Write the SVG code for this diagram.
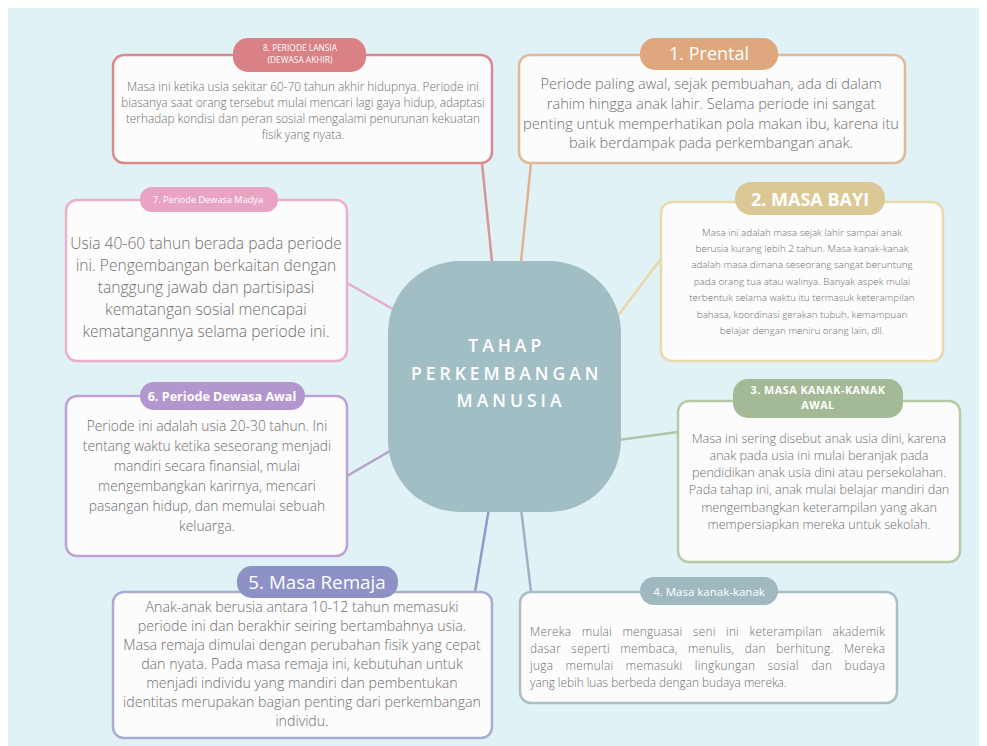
<svg xmlns="http://www.w3.org/2000/svg" width="987" height="746" viewBox="0 0 987 746">
<style>
.box{fill:#fdfcfc;stroke-width:2.5}
.body{font-family:"Open Sans","Liberation Sans",sans-serif;font-weight:300;fill:#6e6e6e;text-anchor:middle}
.lab{font-family:"Open Sans","Liberation Sans",sans-serif;fill:#ffffff;text-anchor:middle}
.conn line{stroke-width:2.5;stroke-linecap:round}
</style>
<rect x="0" y="0" width="987" height="746" fill="#ffffff"/>
<rect x="8" y="8" width="971" height="738" fill="#e1f2f7"/>

<g class="conn">
<line x1="482" y1="163" x2="492" y2="262" stroke="#d7959e"/>
<line x1="531" y1="163" x2="521" y2="262" stroke="#e2b393"/>
<line x1="347" y1="283" x2="398" y2="312" stroke="#e6aacb"/>
<line x1="617" y1="317" x2="660" y2="260" stroke="#ead7a8"/>
<line x1="347" y1="476" x2="395" y2="448" stroke="#b89fd0"/>
<line x1="618" y1="440" x2="678" y2="432" stroke="#b2c4a4"/>
<line x1="489" y1="508" x2="475" y2="592" stroke="#9498c8"/>
<line x1="521" y1="508" x2="531" y2="592" stroke="#9fb2c4"/>
</g>

<g id="center">
<rect x="388" y="261" width="233" height="251" rx="72" fill="#a1bec4"/>
<text font-family="'Open Sans','Liberation Sans',sans-serif" font-weight="600" font-size="17.5" fill="#ffffff" text-anchor="middle" letter-spacing="4">
<tspan x="511" y="352">TAHAP</tspan>
<tspan x="511" y="380">PERKEMBANGAN</tspan>
<tspan x="511" y="407">MANUSIA</tspan>
</text>
</g>

<g id="n8">
<rect class="box" x="113" y="55" width="379" height="108" rx="11" stroke="#d88a8e"/>
<rect x="233" y="38" width="133" height="34" rx="15" fill="#d98185"/>
<text class="lab" font-size="8.4"><tspan x="300" y="51">8. PERIODE LANSIA</tspan><tspan x="300" y="63">(DEWASA AKHIR)</tspan></text>
<text class="body" font-size="11.8"><tspan x="303" y="91">Masa ini ketika usia sekitar 60-70 tahun akhir hidupnya. Periode ini</tspan><tspan x="303" y="107">biasanya saat orang tersebut mulai mencari lagi gaya hidup, adaptasi</tspan><tspan x="303" y="123">terhadap kondisi dan peran sosial mengalami penurunan kekuatan</tspan><tspan x="303" y="139">fisik yang nyata.</tspan></text>
</g>

<g id="n1">
<rect class="box" x="519" y="55" width="386" height="108" rx="11" stroke="#e3b898"/>
<rect x="640" y="38" width="138" height="32" rx="15" fill="#dea77d"/>
<text class="lab" font-size="18" font-weight="500" x="709" y="60">1. Prental</text>
<text class="body" font-size="14.6"><tspan x="711" y="89">Periode paling awal, sejak pembuahan, ada di dalam</tspan><tspan x="711" y="109">rahim hingga anak lahir. Selama periode ini sangat</tspan><tspan x="711" y="129">penting untuk memperhatikan pola makan ibu, karena itu</tspan><tspan x="711" y="148">baik berdampak pada perkembangan anak.</tspan></text>
</g>

<g id="n7">
<rect class="box" x="66" y="200" width="281" height="161" rx="11" stroke="#eab0cc"/>
<rect x="140" y="187" width="138" height="25" rx="12" fill="#e9a4c4"/>
<text class="lab" font-size="9.2" x="208" y="203">7. Periode Dewasa Madya</text>
<text class="body" font-size="15.6"><tspan x="206" y="249">Usia 40-60 tahun berada pada periode</tspan><tspan x="206" y="271">ini. Pengembangan berkaitan dengan</tspan><tspan x="206" y="293">tanggung jawab dan partisipasi</tspan><tspan x="206" y="315">kematangan sosial mencapai</tspan><tspan x="206" y="337">kematangannya selama periode ini.</tspan></text>
</g>

<g id="n2">
<rect class="box" x="661" y="202" width="282" height="159" rx="11" stroke="#ead9aa"/>
<rect x="735" y="182" width="150" height="33" rx="16" fill="#dcc894"/>
<text class="lab" font-size="18" font-weight="700" x="810" y="206">2. MASA BAYI</text>
<text class="body" font-size="9.9"><tspan x="802" y="236">Masa ini adalah masa sejak lahir sampai anak</tspan><tspan x="802" y="252">berusia kurang lebih 2 tahun. Masa kanak-kanak</tspan><tspan x="802" y="268">adalah masa dimana seseorang sangat beruntung</tspan><tspan x="802" y="285">pada orang tua atau walinya. Banyak aspek mulai</tspan><tspan x="802" y="301">terbentuk selama waktu itu termasuk keterampilan</tspan><tspan x="802" y="318">bahasa, koordinasi gerakan tubuh, kemampuan</tspan><tspan x="802" y="334">belajar dengan meniru orang lain, dll.</tspan></text>
</g>

<g id="n6">
<rect class="box" x="66" y="396" width="281" height="160" rx="11" stroke="#bba2d2"/>
<rect x="140" y="382" width="165" height="28" rx="14" fill="#b496cf"/>
<text class="lab" font-size="12.6" font-weight="700" x="222" y="401">6. Periode Dewasa Awal</text>
<text class="body" font-size="13.8"><tspan x="207" y="431">Periode ini adalah usia 20-30 tahun. Ini</tspan><tspan x="207" y="451">tentang waktu ketika seseorang menjadi</tspan><tspan x="207" y="471">mandiri secara finansial, mulai</tspan><tspan x="207" y="491">mengembangkan karirnya, mencari</tspan><tspan x="207" y="511">pasangan hidup, dan memulai sebuah</tspan><tspan x="207" y="531">keluarga.</tspan></text>
</g>

<g id="n3">
<rect class="box" x="678" y="401" width="282" height="161" rx="11" stroke="#b7c9a8"/>
<rect x="733" y="379" width="170" height="39" rx="15" fill="#a4b996"/>
<text class="lab" font-size="10.8" font-weight="700" letter-spacing="0.5"><tspan x="818" y="394">3. MASA KANAK-KANAK</tspan><tspan x="818" y="409">AWAL</tspan></text>
<text class="body" font-size="12.6"><tspan x="819" y="443">Masa ini sering disebut anak usia dini, karena</tspan><tspan x="819" y="460">anak pada usia ini mulai beranjak pada</tspan><tspan x="819" y="477">pendidikan anak usia dini atau persekolahan.</tspan><tspan x="819" y="494">Pada tahap ini, anak mulai belajar mandiri dan</tspan><tspan x="819" y="512">mengembangkan keterampilan yang akan</tspan><tspan x="819" y="529">mempersiapkan mereka untuk sekolah.</tspan></text>
</g>

<g id="n5">
<rect class="box" x="113" y="592" width="379" height="146" rx="11" stroke="#aaabd2"/>
<rect x="237" y="566" width="161" height="32" rx="15" fill="#8e91c5"/>
<text class="lab" font-size="18.8" font-weight="500" x="317" y="589">5. Masa Remaja</text>
<text class="body" font-size="14.2"><tspan x="302" y="612">Anak-anak berusia antara 10-12 tahun memasuki</tspan><tspan x="302" y="631">periode ini dan berakhir seiring bertambahnya usia.</tspan><tspan x="302" y="650">Masa remaja dimulai dengan perubahan fisik yang cepat</tspan><tspan x="302" y="669">dan nyata. Pada masa remaja ini, kebutuhan untuk</tspan><tspan x="302" y="688">menjadi individu yang mandiri dan pembentukan</tspan><tspan x="302" y="707">identitas merupakan bagian penting dari perkembangan</tspan><tspan x="302" y="726">individu.</tspan></text>
</g>

<g id="n4">
<rect class="box" x="520" y="592" width="377" height="111" rx="11" stroke="#a9bec5"/>
<rect x="640" y="577" width="138" height="28" rx="14" fill="#a0b9c0"/>
<text class="lab" font-size="11.5" font-weight="500" x="709" y="596">4. Masa kanak-kanak</text>
<g class="body" font-size="11.8" style="text-anchor:start">
<text x="530" y="636" word-spacing="7" textLength="355" lengthAdjust="spacing">Mereka mulai menguasai seni ini keterampilan akademik</text>
<text x="530" y="653" word-spacing="7" textLength="355" lengthAdjust="spacing">dasar seperti membaca, menulis, dan berhitung. Mereka</text>
<text x="530" y="670" word-spacing="9" textLength="355" lengthAdjust="spacing">juga memulai memasuki lingkungan sosial dan budaya</text>
<text x="530" y="687">yang lebih luas berbeda dengan budaya mereka.</text>
</g>
</g>
</svg>
